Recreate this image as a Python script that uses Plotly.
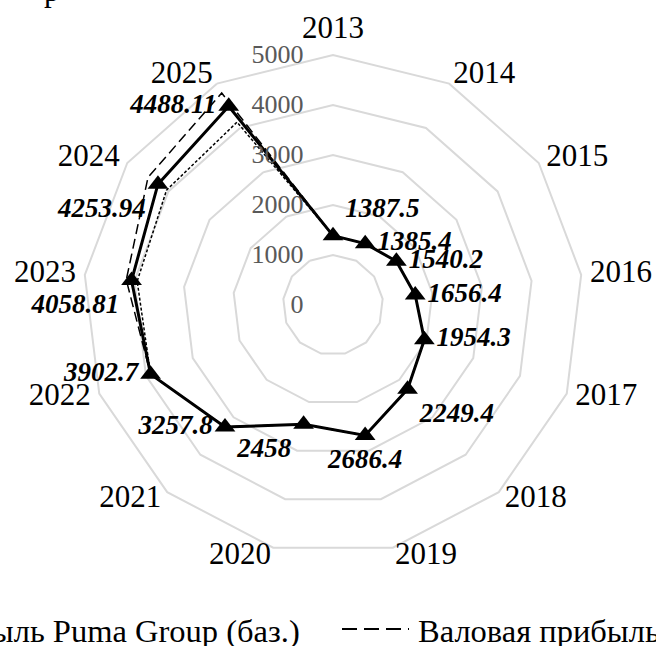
import plotly.graph_objects as go

years = ["2013", "2014", "2015", "2016", "2017", "2018", "2019",
         "2020", "2021", "2022", "2023", "2024", "2025"]
base = [1387.5, 1385.4, 1540.2, 1656.4, 1954.3, 2249.4, 2686.4,
        2458, 3257.8, 3902.7, 4058.81, 4253.94, 4488.11]
optimistic = [1387.5, 1385.4, 1540.2, 1656.4, 1954.3, 2249.4, 2686.4,
              2458, 3257.8, 3902.7, 4165, 4495, 4790]
pessimistic = [1387.5, 1385.4, 1540.2, 1656.4, 1954.3, 2249.4, 2686.4,
               2458, 3257.8, 3902.7, 3945, 4045, 4130]
series_names = ["Валовая прибыль Puma Group (баз.)",
                "Валовая прибыль Puma Group (опт.)",
                "Валовая прибыль Puma Group (пес.)"]
label_pos = ["top right", "middle right", "middle right", "middle right",
             "middle right", "bottom right", "bottom center", "bottom left",
             "middle left", "middle left", "bottom left", "bottom left",
             "middle left"]
year_label_pos = ["top center", "middle right", "middle right", "middle right",
                  "middle right", "middle right", "middle right",
                  "middle left", "middle left", "middle left", "middle left",
                  "middle left", "middle left"]

FONT = "Liberation Serif"
R_GRID_MAX = 5000
YEAR_LABEL_R = 5180


def closed(v):
    return list(v) + [v[0]]


theta = closed(years)

fig = go.Figure()
fig.add_trace(go.Scatterpolar(
    r=closed(optimistic), theta=theta, mode="lines", name=series_names[1],
    line=dict(color="black", width=1.5, dash="10px,5px"), showlegend=False))
fig.add_trace(go.Scatterpolar(
    r=closed(pessimistic), theta=theta, mode="lines", name=series_names[2],
    line=dict(color="black", width=1.5, dash="3px,2px"), showlegend=False))
fig.add_trace(go.Scatterpolar(
    r=closed(base), theta=theta, mode="lines", name=series_names[0],
    line=dict(color="black", width=3), showlegend=False, hoverinfo="skip"))
fig.add_trace(go.Scatterpolar(
    r=base, theta=years, mode="markers+text", name=series_names[0],
    marker=dict(symbol="triangle-up", size=18, color="black"),
    text=[f"{v:g}" for v in base], textposition=label_pos,
    textfont=dict(family=FONT, size=27, color="black",
                  weight="bold", style="italic"),
    showlegend=False, cliponaxis=False))
# category (year) labels just outside the outer (5000) ring
fig.add_trace(go.Scatterpolar(
    r=[YEAR_LABEL_R] * len(years), theta=years, mode="text",
    text=years, textposition=year_label_pos,
    textfont=dict(family=FONT, size=31, color="black"),
    showlegend=False, cliponaxis=False, hoverinfo="skip"))

# polar area: centre (333, 305) px, 5000 -> 250 px
W, H = 656, 646
cx, cy = 333, 305
rad = 250 * YEAR_LABEL_R / R_GRID_MAX
grid = "#d9d9d9"
fig.update_layout(
    width=W, height=H,
    margin=dict(l=0, r=0, t=0, b=0),
    paper_bgcolor="white",
    font=dict(family=FONT, color="black"),
    polar=dict(
        domain=dict(x=[(cx - rad) / W, (cx + rad) / W],
                    y=[1 - (cy + rad) / H, 1 - (cy - rad) / H]),
        gridshape="linear",
        bgcolor="white",
        angularaxis=dict(
            rotation=90, direction="clockwise",
            categoryorder="array", categoryarray=years,
            showgrid=False, showline=False,
            ticks="", showticklabels=False,
        ),
        radialaxis=dict(
            range=[0, YEAR_LABEL_R], tick0=0, dtick=1000, angle=90,
            tickangle=90, side="counterclockwise",
            showline=False, gridcolor=grid, gridwidth=1.5,
            ticks="outside", ticklen=20, tickcolor="rgba(0,0,0,0)",
            tickfont=dict(family=FONT, size=26, color="#595959"),
        ),
    ),
)

# top-left clipped title fragment
fig.add_annotation(text="р", x=52 / W, y=1.014, xref="paper", yref="paper",
                   xanchor="center", yanchor="middle", showarrow=False,
                   font=dict(family=FONT, size=31, color="black"))

# manual legend (wider than the page, clipped at both sides)
leg_y = 0.0235
fig.add_annotation(text=series_names[0], x=302 / W, y=leg_y,
                   xref="paper", yref="paper", xanchor="right",
                   yanchor="middle", showarrow=False,
                   font=dict(family=FONT, size=32.5, color="black"))
fig.add_shape(type="line", xref="paper", yref="paper",
              x0=342 / W, x1=409 / W, y0=1 - 629 / H, y1=1 - 629 / H,
              line=dict(color="black", width=2, dash="15px,7px"))
fig.add_annotation(text=series_names[1], x=416 / W, y=leg_y,
                   xref="paper", yref="paper", xanchor="left",
                   yanchor="middle", showarrow=False,
                   font=dict(family=FONT, size=32.5, color="black"))

fig.write_html("out.html", config={"displayModeBar": False},
               post_script="document.body.style.margin='0';"
                           "document.body.style.overflow='hidden';")
